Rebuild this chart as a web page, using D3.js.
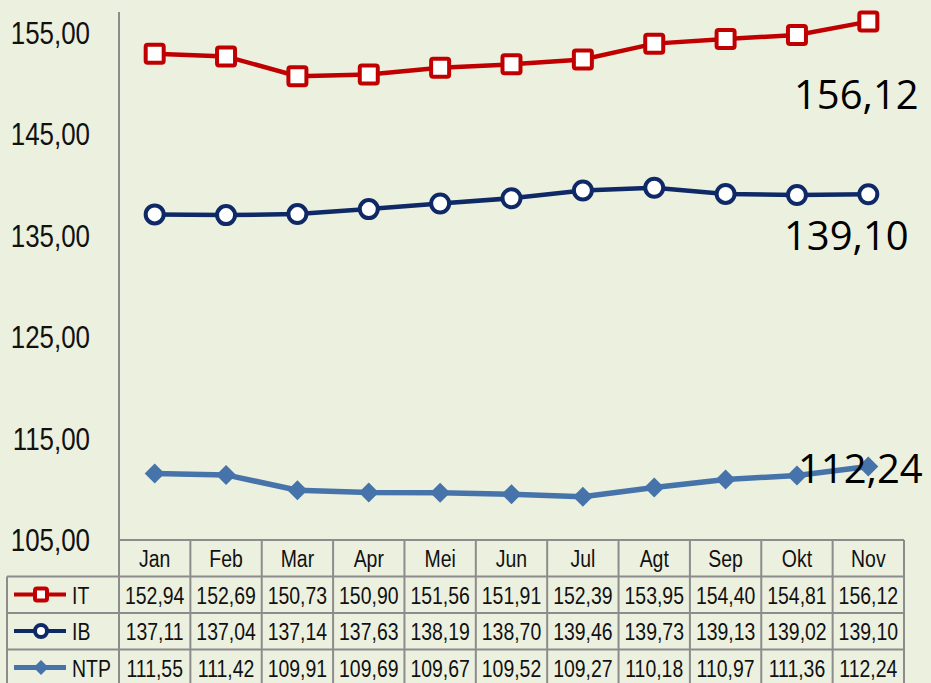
<!DOCTYPE html>
<html>
<head>
<meta charset="utf-8">
<script src="https://cdn.jsdelivr.net/npm/d3@7"></script>
<style>
  html, body { margin: 0; padding: 0; background: #ECF0DF; }
  svg { display: block; }
  .narrow { font-family: 'Liberation Sans', Arial, sans-serif; fill: #111; }
</style>
</head>
<body>
<div id="chart"></div>
<script>
// Data
const months = ['Jan', 'Feb', 'Mar', 'Apr', 'Mei', 'Jun', 'Jul', 'Agt', 'Sep', 'Okt', 'Nov'];
const itValues = [152.94, 152.69, 150.73, 150.90, 151.56, 151.91, 152.39, 153.95, 154.40, 154.81, 156.12];
const ibValues = [137.11, 137.04, 137.14, 137.63, 138.19, 138.70, 139.46, 139.73, 139.13, 139.02, 139.10];
const ntpValues = [111.55, 111.42, 109.91, 109.69, 109.67, 109.52, 109.27, 110.18, 110.97, 111.36, 112.24];
const yTicks = [105, 115, 125, 135, 145, 155];

const width = 931;
const height = 683;
const squeeze = 0.81; // narrow font look
const fmt = v => d3.format('.2f')(v).replace('.', ',');

const series = [
    { name: 'IT', values: itValues, color: '#C00000', marker: 'square', labelDx: -12, labelDy: 87 },
    { name: 'IB', values: ibValues, color: '#0E2966', marker: 'circle', labelDx: -22, labelDy: 56 },
    { name: 'NTP', values: ntpValues, color: '#4673AA', marker: 'diamond', labelDx: -8, labelDy: 16 }
];

const svg = d3.select('#chart')
    .append('svg')
    .attr('width', width)
    .attr('height', height);

// Scales
const x = d3.scaleBand()
    .domain(months)
    .range([119, 904]);

const y = d3.scaleLinear()
    .domain([105, 157])
    .range([540, 12.7]);

const cx = d => x(d) + x.bandwidth() / 2;

// condensed text helper
function narrowText(sel, px, py, size, anchor) {
    return sel.append('text')
        .attr('class', 'narrow')
        .attr('transform', `translate(${px}, ${py}) scale(${squeeze}, 1)`)
        .attr('text-anchor', anchor)
        .attr('font-size', size);
}

// Y axis labels
const yLabels = svg.append('g');
yTicks.forEach(t => {
    narrowText(yLabels, 90, y(t) + 11, 32, 'end').text(fmt(t));
});

// Table
const rowTop = [540, 576.5, 613, 649.5, 686];
const grid = svg.append('g')
    .attr('stroke', '#8C8C8C')
    .attr('stroke-width', 2)
    .attr('fill', 'none');

// horizontal lines
grid.append('line').attr('x1', 119).attr('x2', 904).attr('y1', rowTop[0]).attr('y2', rowTop[0]);
rowTop.slice(1).forEach(r => {
    grid.append('line').attr('x1', 7).attr('x2', 904).attr('y1', r).attr('y2', r);
});
// vertical lines
grid.append('line').attr('x1', 119).attr('x2', 119).attr('y1', 12).attr('y2', height);
grid.append('line').attr('x1', 7).attr('x2', 7).attr('y1', rowTop[1]).attr('y2', height);
months.forEach(m => {
    grid.append('line')
        .attr('x1', x(m) + x.bandwidth()).attr('x2', x(m) + x.bandwidth())
        .attr('y1', rowTop[0]).attr('y2', height);
});

// header
const header = svg.append('g');
months.forEach(m => {
    narrowText(header, cx(m), rowTop[0] + 27, 24, 'middle').text(m);
});

// marker drawing
function drawMarker(sel, type, color, size) {
    if (type === 'square') {
        sel.append('rect')
            .attr('x', -size).attr('y', -size)
            .attr('width', size * 2).attr('height', size * 2)
            .attr('rx', 2)
            .attr('fill', '#fff')
            .attr('stroke', color)
            .attr('stroke-width', 4);
    } else if (type === 'circle') {
        sel.append('circle')
            .attr('r', size)
            .attr('fill', '#fff')
            .attr('stroke', color)
            .attr('stroke-width', 4);
    } else {
        const s = size * 1.25;
        sel.append('path')
            .attr('d', `M0,${-s}L${s},0L0,${s}L${-s},0Z`)
            .attr('fill', color);
    }
}

series.forEach((s, i) => {
    const rowY = rowTop[i + 1];

    // table values
    const cells = svg.append('g');
    s.values.forEach((v, j) => {
        narrowText(cells, cx(months[j]), rowY + 27, 24, 'middle').text(fmt(v));
    });

    // legend key
    const key = svg.append('g').attr('transform', `translate(0, ${rowY + 18})`);
    key.append('line')
        .attr('x1', 14).attr('x2', 66)
        .attr('stroke', s.color)
        .attr('stroke-width', s.marker === 'diamond' ? 5 : 4);
    const km = key.append('g').attr('transform', 'translate(41, 0)');
    drawMarker(km, s.marker, s.color, 6);
    narrowText(key, 72, 9, 24, 'start').text(s.name);

    // line
    const line = d3.line()
        .x((d, j) => cx(months[j]))
        .y(d => y(d));

    svg.append('path')
        .datum(s.values)
        .attr('d', line)
        .attr('fill', 'none')
        .attr('stroke', s.color)
        .attr('stroke-width', s.marker === 'diamond' ? 5.5 : 4.5);

    // markers
    svg.append('g')
        .selectAll('g')
        .data(s.values)
        .enter()
        .append('g')
        .attr('transform', (d, j) => `translate(${cx(months[j])}, ${y(d)})`)
        .each(function () {
            drawMarker(d3.select(this), s.marker, s.color, s.marker === 'diamond' ? 8 : 9);
        });

    // last value label
    const last = s.values[s.values.length - 1];
    svg.append('text')
        .attr('x', cx(months[months.length - 1]) + s.labelDx)
        .attr('y', y(last) + s.labelDy)
        .attr('text-anchor', 'middle')
        .attr('font-family', "'Open Sans', sans-serif")
        .attr('font-size', 40)
        .attr('fill', '#000')
        .text(fmt(last));
});
</script>
</body>
</html>
